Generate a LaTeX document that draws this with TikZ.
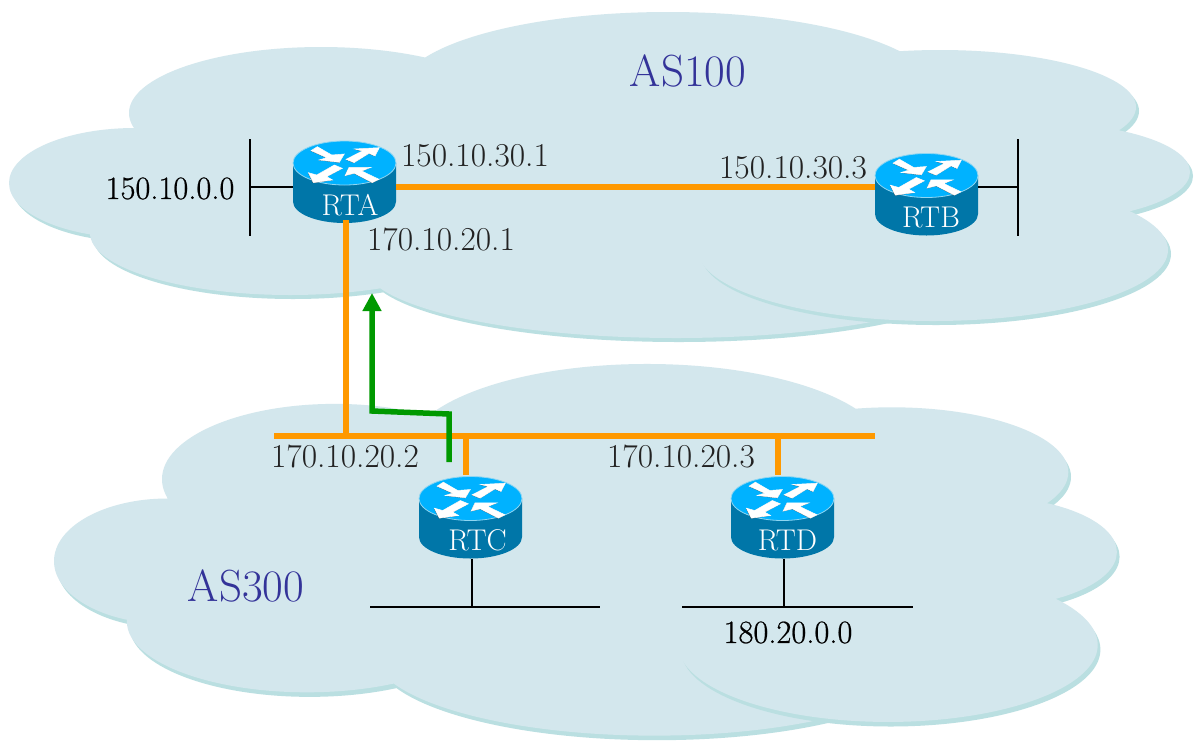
\documentclass[tikz,border=0pt]{standalone}
\usepackage{fontspec}
\newfontfamily\semibold[FakeBold=0.6]{Latin Modern Roman}
\definecolor{cloudtop}{HTML}{D3E7ED}
\definecolor{cloudshade}{HTML}{BADFE1}
\definecolor{rtop}{HTML}{00B2FF}
\definecolor{rside}{HTML}{0076A8}
\definecolor{redge}{HTML}{8FD6F2}
\definecolor{wan}{HTML}{FF9900}
\definecolor{flow}{HTML}{009900}
\definecolor{asname}{HTML}{333399}
\definecolor{addr}{HTML}{222222}
\tikzset{
  wanline/.style={draw=wan,line width=5.5pt},
  lanline/.style={draw=black,line width=2pt},
  flowline/.style={draw=flow,line width=5.5pt,-{Triangle[length=18pt,width=18pt]},miter limit=10},
  addrlabel/.style={text=addr,font=\fontsize{33.4}{33}\selectfont,inner sep=0pt},
  netlabel/.style={text=black,font=\semibold\fontsize{32.5}{33}\selectfont,inner sep=0pt},
  aslabel/.style={text=asname,font=\fontsize{45}{45}\selectfont,inner sep=0pt},
  rlabel/.style={text=white,font=\fontsize{30}{30}\selectfont,inner sep=0pt},
  rbox/.style={rectangle,minimum width=103pt,minimum height=83pt,inner sep=0pt},
}
\usetikzlibrary{arrows.meta}
% #1 left lobe y, #2 right lobe y, #3 lower left lobe y
\newcommand{\cloudlobes}[3]{%
  (135,#1) ellipse [x radius=126,y radius=55]
  (321,113) ellipse [x radius=192,y radius=66]
  (668,90) ellipse [x radius=267,y radius=78]
  (940,107) ellipse [x radius=196,y radius=57]
  (1040,#2) ellipse [x radius=150,y radius=49]
  (290,#3) ellipse [x radius=200,y radius=62]
  (676,265) ellipse [x radius=312,y radius=73]
  (650,180) ellipse [x radius=400,y radius=90]
}
% #4 lobe x, #5 lobe y, #6 lobe x radius, #7 lobe y radius
\newcommand{\drawcloud}[7]{%
  \fill[cloudshade,shift={(3,4)}] \cloudlobes{#1}{#2}{#3};
  \fill[cloudtop] \cloudlobes{#1}{#2}{#3};
  \fill[cloudshade,shift={(3,4)}] (#4,#5) ellipse [x radius=#6,y radius=#7];
  \fill[cloudtop] (#4,#5) ellipse [x radius=#6,y radius=#7];
}
\newcommand{\routerarrow}[1]{%
  \fill[black,shift={(-0.8,0.8)}] #1 -- cycle;
  \filldraw[white,line width=0.5pt] #1 -- cycle;
}
\newcommand{\routernode}[5]{%
  \node[rbox] (#1) at (#2,#3) {};
  \begin{scope}[shift={(#2,#3)}]
    \fill[rside] (-51.5,-18.5) -- (-51.5,20) arc [start angle=180,end angle=0,x radius=51.5,y radius=21.5] -- (51.5,-18.5) -- cycle;
    \fill[rtop,draw=redge,line width=0.8pt] (0,-18.5) ellipse [x radius=51.5,y radius=22];
    \begin{scope}[scale=1/3,shift={(-178.5,-139.5)}]
      \routerarrow{(78,47) -- (97,35) -- (140,60) -- (178,57) -- (163,82) -- (102,75) -- (125,68)}
      \routerarrow{(183,73) -- (232,48) -- (208,42) -- (283,38) -- (270,63) -- (252,55) -- (207,83)}
      \routerarrow{(148,90) -- (172,100) -- (125,125) -- (143,135) -- (85,143) -- (70,113) -- (95,120)}
      \routerarrow{(180,122) -- (192,97) -- (258,97) -- (230,108) -- (282,133) -- (262,143) -- (208,115)}
    \end{scope}
  \end{scope}
  \node[rlabel] (#1label) at (#2+#5,#3+23.5) {#4};
}
\begin{document}
\begin{tikzpicture}[x=1pt,y=-1pt]
\useasboundingbox (0,0) rectangle (1194,740);
\fill[white] (0,0) rectangle (1194,740);
\drawcloud{183}{172}{233}{933}{250}{235}{71}
\begin{scope}[shift={(45.9,350.3)},xscale=0.9,yscale=1.14]
\drawcloud{185}{177}{238}{935.7}{258.5}{233}{67.5}
\end{scope}
\routernode{rta}{344.5}{181.5}{RTA}{5.5}
\routernode{rtb}{926.5}{194}{RTB}{4.5}
\routernode{rtc}{470.5}{517}{RTC}{7}
\routernode{rtd}{782.5}{517}{RTD}{5}
\coordinate (netAt) at (250,139);
\coordinate (netAb) at (250,236);
\coordinate (netAm) at (250,187);
\coordinate (netBt) at (1018,139);
\coordinate (netBb) at (1018,236);
\coordinate (netBm) at (1018,187);
\coordinate (netCl) at (370,607);
\coordinate (netCr) at (600,607);
\coordinate (netCm) at (472,607);
\coordinate (netDl) at (682,607);
\coordinate (netDr) at (913,607);
\coordinate (netDm) at (784,607);
\draw[lanline] (netAt) -- (netAb);
\draw[lanline] (netBt) -- (netBb);
\draw[lanline] (netCl) -- (netCr);
\draw[lanline] (netDl) -- (netDr);
\draw[lanline] ([yshift=-5.5pt]rta.west) -- (netAm);
\draw[lanline] ([yshift=7pt]rtb.east) -- (netBm);
\draw[lanline] ([xshift=1.5pt]rtc.south) -- (netCm);
\draw[lanline] ([xshift=1.5pt]rtd.south) -- (netDm);
\coordinate (busL) at (274,436);
\coordinate (busR) at (875,436);
\coordinate (busA) at (346,436);
\coordinate (busC) at (466,436);
\coordinate (busD) at (778,436);
\draw[wanline] (busL) -- (busR);
\draw[wanline] ([yshift=-5.5pt]rta.east) -- ([yshift=7pt]rtb.west);
\draw[wanline] ([xshift=1.5pt,yshift=3pt]rta.south) -- (busA);
\draw[wanline] (busC) -- ([xshift=-4.5pt]rtc.north);
\draw[wanline] (busD) -- ([xshift=-4.5pt]rtd.north);
\coordinate (flowS) at (449,462);
\coordinate (flowM) at (449,414);
\coordinate (flowN) at (372,411);
\coordinate (flowE) at (372,293);
\draw[flowline] (flowS) -- (flowM) -- (flowN) -- (flowE);
\node[aslabel] (as100) at (688,71) {AS100};
\node[aslabel] (as300) at (246,585.5) {AS300};
\node[addrlabel] (a1) at (475,156) {150.10.30.1};
\node[addrlabel] (a2) at (793,168) {150.10.30.3};
\node[addrlabel] (a3) at (441,239) {170.10.20.1};
\node[addrlabel] (a4) at (345,456) {170.10.20.2};
\node[addrlabel] (a5) at (681,456) {170.10.20.3};
\node[netlabel] (n1) at (170,188.5) {150.10.0.0};
\node[netlabel] (n2) at (788,632.5) {180.20.0.0};
\end{tikzpicture}
\end{document}
